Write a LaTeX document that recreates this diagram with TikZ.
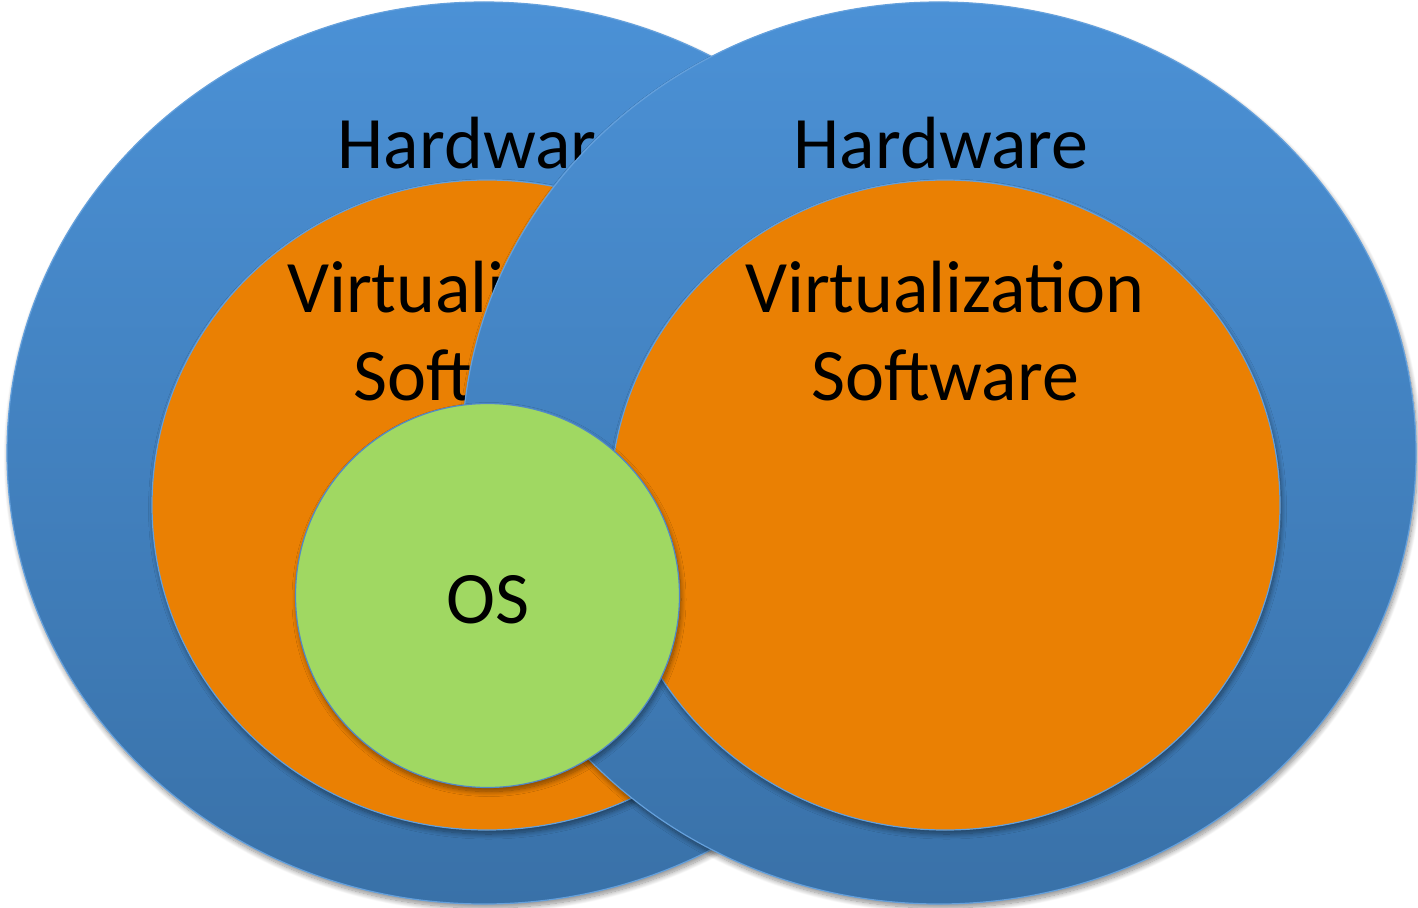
\documentclass[tikz,border=0pt]{standalone}
\usepackage{fontspec}
\setmainfont{Carlito}
\usetikzlibrary{shadows.blur}

\definecolor{hwTop}{RGB}{75,145,214}
\definecolor{hwBot}{RGB}{57,113,168}
\definecolor{hwEdge}{RGB}{100,160,220}
\definecolor{vsFill}{RGB}{234,128,3}
\definecolor{osFill}{RGB}{160,216,98}
\definecolor{osEdge}{RGB}{80,135,200}

\tikzset{
  soft shadow/.style={blur shadow={shadow xshift=1.5pt, shadow yshift=-4pt,
      shadow blur radius=5pt, shadow blur steps=12, shadow opacity=45}},
  hardware/.style={top color=hwTop, bottom color=hwBot, draw=hwEdge,
      line width=1.2pt, soft shadow},
  virtsw/.style={fill=vsFill, draw=hwEdge, line width=1.2pt, soft shadow},
  oslayer/.style={fill=osFill, draw=osEdge, line width=1.2pt, soft shadow},
  label/.style={font=\fontsize{74}{88}\selectfont, text=black, anchor=base,
      inner sep=0pt},
}

\begin{document}
\begin{tikzpicture}[x=1pt, y=-1pt]
  \useasboundingbox (0,0) rectangle (1418,907);

  % left host
  \path[hardware] (484,453) ellipse [x radius=477pt, y radius=451pt];
  \path[virtsw] (487,505) ellipse [x radius=335pt, y radius=325pt];
  \node[label] (hwL) at (485,168) {Hardware};
  \node[label] (vL) at (487,312) {Virtualization};
  \node[label] (sL) at (487,400) {Software};

  % right host
  \path[hardware] (939,453) ellipse [x radius=477pt, y radius=451pt];
  \path[virtsw] (945,505) ellipse [x radius=335pt, y radius=325pt];
  \node[label] (hwR) at (941,168) {Hardware};
  \node[label] (vR) at (945,312) {Virtualization};
  \node[label] (sR) at (945,400) {Software};

  % guest operating system
  \path[oslayer] (487.5,595.5) circle [radius=192pt];
  \node[label] (os) at (488,623) {OS};
\end{tikzpicture}
\end{document}
